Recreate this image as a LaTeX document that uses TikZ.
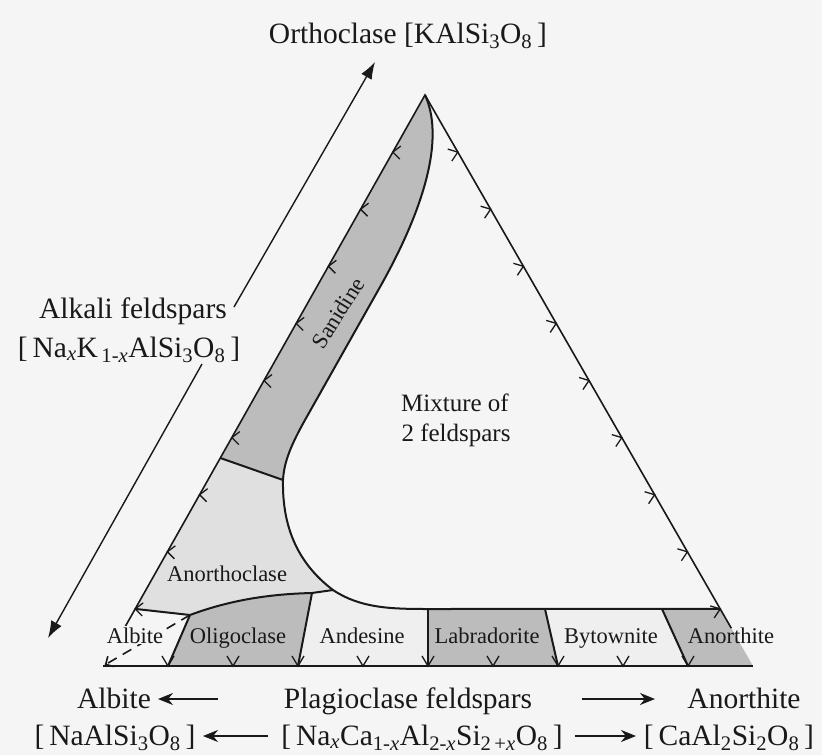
\documentclass[tikz,border=0pt]{standalone}
\usepackage{fontspec}
\setmainfont{Liberation Serif}
\usetikzlibrary{arrows.meta,calc}
\definecolor{bg}{RGB}{245,245,245}
\definecolor{dark}{RGB}{188,188,188}
\definecolor{light}{RGB}{224,224,224}
\definecolor{pale}{RGB}{239,239,239}
\definecolor{ink}{RGB}{25,25,25}
\begin{document}
\begin{tikzpicture}[x=1pt,y=-1pt,
  edge/.style={draw=ink,line width=1.6pt},
  bound/.style={draw=ink,line width=2pt},
  tickmark/.style={draw=ink,line width=1.3pt},
  big/.style={font=\fontsize{29.5}{31}\selectfont, inner sep=0pt, text=ink, anchor=base},
  mid/.style={font=\fontsize{25}{27}\selectfont, inner sep=0pt, text=ink, anchor=base},
  small/.style={font=\fontsize{22.5}{24}\selectfont, inner sep=0pt, text=ink, anchor=base},
  bigarrow/.style={draw=ink,line width=1.4pt,-{Latex[length=17pt,width=12pt]}},
  botarrow/.style={draw=ink,line width=1.8pt,-{Stealth[length=15pt,width=12pt]}},
]
\fill[bg] (0,0) rectangle (822,755);
\useasboundingbox (0,0) rectangle (822,755);

% corners and junctions
\coordinate (L) at (103,666);
\coordinate (R) at (753,666);
\coordinate (T) at (425,95);
\coordinate (sa) at ($(L)!0.3643!(T)$);
\coordinate (sb) at (283,480);
\coordinate (a10) at ($(L)!0.1!(T)$);
\coordinate (j1) at (190,615);
\coordinate (j2) at (312,593);
\coordinate (j3) at (333,590);
\coordinate (j4) at (428,609);
\coordinate (j5) at (545,609);
\coordinate (j6) at (662,609);
\coordinate (j7) at ($(R)!0.1!(T)$);
\coordinate (c1) at (380,287);
\coordinate (c2) at (305,420);
\foreach \k in {1,...,9}{
  \pgfmathsetmacro{\f}{\k/10}
  \coordinate (b\k) at ($(L)!\f!(R)$);
}
\coordinate (lend) at ($(L)!0.068!(T)$);
\coordinate (rend) at ($(R)!0.066!(T)$);

% shaded fields
\fill[dark] (T) -- (sa) -- (sb) .. controls (284,462) and (291,445) .. (c2) -- (c1)
   .. controls (415,225) and (448,145) .. (T) -- cycle;
\fill[light] (sa) -- (a10) -- (j1) .. controls (230,600) and (270,594) .. (j2) -- (j3)
   .. controls (300,565) and (282,530) .. (sb) -- cycle;
\fill[dark] (j1) -- (b1) -- (b3) -- (j2) .. controls (270,594) and (230,600) .. (j1) -- cycle;
\fill[pale] (j2) -- (b3) -- (b5) -- (j4) .. controls (390,609) and (360,608) .. (j3) -- cycle;
\fill[dark] (j4) -- (b5) -- (b7) -- (j5) -- cycle;
\fill[pale] (j5) -- (b7) -- (b9) -- (j6) -- cycle;
\fill[dark] (j6) -- (b9) -- (R) -- (j7) -- cycle;

% triangle edges
\draw[edge] (lend) -- (T) -- (rend);
\draw[edge] (L) -- (R);

% solvus and band boundaries
\draw[bound] (T) .. controls (448,145) and (415,225) .. (c1) -- (c2)
   .. controls (291,445) and (284,462) .. (sb)
   .. controls (282,530) and (300,565) .. (j3)
   .. controls (360,608) and (390,609) .. (j4) -- (j7);
\draw[bound] (sa) -- (sb);
\draw[bound] (a10) -- (j1) .. controls (230,600) and (270,594) .. (j2) -- (j3);
\draw[bound] (j1) -- (b1);
\draw[bound] (j2) -- (b3);
\draw[bound] (j4) -- (b5);
\draw[bound] (j5) -- (b7);
\draw[bound] (j6) -- (b9);
\draw[draw=ink,line width=1.6pt,dash pattern=on 10pt off 7pt,
  -{Straight Barb[length=6pt,width=12pt]}] (j1) -- ($(L)!2pt!(j1)$);

% ticks at tenths
\foreach \k in {1,...,9}{
  \pgfmathsetmacro{\f}{\k/10}
  \draw[tickmark] ($(L)!\f!(T)$) ++(8,-6) -- ++(-8,6) -- ++(7,7);
  \draw[tickmark] ($(R)!\f!(T)$) ++(-10,-3) -- ++(10,3) -- ++(-6,9);
  \draw[tickmark] ($(L)!\f!(R)$) ++(-6,-10) -- ++(6,10) -- ++(6,-10);
}

% field labels
\node[small, rotate=58, anchor=center] (san) at (338,313) {Sanidine};
\node[mid] (mix1) at (455,411) {Mixture of};
\node[mid] (mix2) at (456,441) {2 feldspars};
\node[small] (anorthoclase) at (227,581) {Anorthoclase};
\node[small, fill=bg, inner sep=1pt] (albite) at (135,643) {Albite};
\node[small] (oligoclase) at (238,643) {Oligoclase};
\node[small] (andesine) at (362,643) {Andesine};
\node[small] (labradorite) at (487,643) {Labradorite};
\node[small] (bytownite) at (611,643) {Bytownite};
\node[small] (anorthite) at (731,643) {Anorthite};

% end-member labels
\node[big] (ortho) at (408,43) {Orthoclase [KAlSi\textsubscript{3}O\textsubscript{8}\,]};
\node[big] (alk1) at (133,318) {Alkali feldspars};
\node[big] (alk2) at (129,357) {[\,Na\textsubscript{\itshape x}K\textsubscript{\,1-\itshape x}AlSi\textsubscript{3}O\textsubscript{8}\,]};
\coordinate (akup) at (234,307);
\coordinate (akdn) at (202,364);
\coordinate (tipT) at (375,62);
\coordinate (tipB) at (48,638);
\draw[bigarrow] (akup) -- (tipT);
\draw[bigarrow] (akdn) -- (tipB);

% bottom legend
\node[big] (albB) at (114,708) {Albite};
\node[big] (plag) at (408,708) {Plagioclase feldspars};
\node[big] (anB) at (744,708) {Anorthite};
\node[big] (albF) at (115,745) {[\,NaAlSi\textsubscript{3}O\textsubscript{8}\,]};
\node[big] (plagF) at (422,745) {[\,Na\textsubscript{\itshape x}Ca\textsubscript{1-\itshape x}Al\textsubscript{2-\itshape x}Si\textsubscript{2\,+\itshape x}O\textsubscript{8}\,]};
\node[big] (anF) at (729,745) {[\,CaAl\textsubscript{2}Si\textsubscript{2}O\textsubscript{8}\,]};
\coordinate (r1a) at (218,699);
\coordinate (r1b) at (158,699);
\coordinate (r1c) at (582,699);
\coordinate (r1d) at (655,699);
\coordinate (r2a) at (268,736);
\coordinate (r2b) at (203,736);
\coordinate (r2c) at (575,736);
\coordinate (r2d) at (636,736);
\draw[botarrow] (r1a) -- (r1b);
\draw[botarrow] (r1c) -- (r1d);
\draw[botarrow] (r2a) -- (r2b);
\draw[botarrow] (r2c) -- (r2d);
\end{tikzpicture}
\end{document}
